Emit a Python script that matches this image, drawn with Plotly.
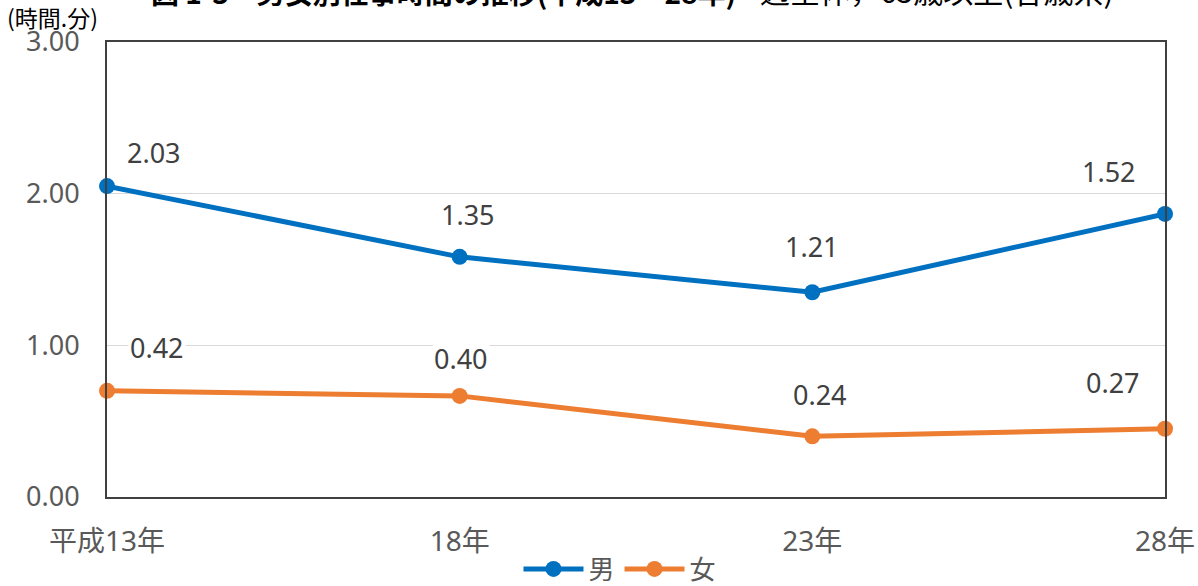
import plotly.graph_objects as go

# Survey years (category axis) and working time per day, written as "hours.minutes"
years = ["平成13年", "18年", "23年", "28年"]
men_hm = ["2.03", "1.35", "1.21", "1.52"]
women_hm = ["0.42", "0.40", "0.24", "0.27"]
y_ticks = [0, 1, 2, 3]
y_ticktext = ["0.00", "1.00", "2.00", "3.00"]


def hm_to_hours(s):
    h, m = s.split(".")
    return int(h) + int(m) / 60.0


men = [hm_to_hours(v) for v in men_hm]
women = [hm_to_hours(v) for v in women_hm]
xs = list(range(len(years)))

BLUE = "#0070C0"
ORANGE = "#ED7D31"
TXT = "#595959"
NUM_FONT = "Noto Sans, Noto Sans CJK JP, sans-serif"
JP_FONT = "Noto Sans CJK JP, Noto Sans, sans-serif"

fig = go.Figure()
fig.add_trace(go.Scatter(
    x=xs, y=men, name="男", mode="lines+markers",
    line=dict(color=BLUE, width=5), marker=dict(size=16, color=BLUE),
    cliponaxis=False,
))
fig.add_trace(go.Scatter(
    x=xs, y=women, name="女", mode="lines+markers",
    line=dict(color=ORANGE, width=5), marker=dict(size=16, color=ORANGE),
    cliponaxis=False,
))

# value labels above each point
men_dx = [47, 8, 0, -56]
men_dy = [34, 42, 46, 42]
women_dx = [50, 1, 8, -52]
women_dy = [43, 37, 42, 46]
for i in xs:
    fig.add_annotation(x=i, y=men[i], text=men_hm[i], showarrow=False,
                       xshift=men_dx[i], yshift=men_dy[i], bgcolor="white",
                       font=dict(family=NUM_FONT, size=27, color="#404040"))
    fig.add_annotation(x=i, y=women[i], text=women_hm[i], showarrow=False,
                       xshift=women_dx[i], yshift=women_dy[i], bgcolor="white",
                       font=dict(family=NUM_FONT, size=27, color="#404040"))

# chart title (runs past the top edge of the page)
fig.add_annotation(xref="paper", yref="paper", x=(738 - 107) / 1058, y=1 + (42 - 14) / 455,
                   xanchor="right", yanchor="bottom", showarrow=False,
                   text="<b>図 1-3　男女別仕事時間の推移(平成13～28年)</b>",
                   font=dict(family=JP_FONT, size=28, color="black"))
fig.add_annotation(xref="paper", yref="paper", x=(728 - 107) / 1058, y=1 + (42 - 14) / 455,
                   xanchor="left", yanchor="bottom", showarrow=False,
                   text="－週全体，65歳以上(各歳系)",
                   font=dict(family=JP_FONT, size=30, color="black"))

# unit label for the value axis
fig.add_annotation(xref="paper", yref="paper", x=(5 - 107) / 1058, y=1 + (42 - 17) / 455,
                   xanchor="left", yanchor="middle", showarrow=False,
                   text="(時間.分)", font=dict(family=JP_FONT, size=23, color="black"))

fig.update_layout(
    width=1198, height=586,
    margin=dict(l=107, r=33, t=42, b=89, autoexpand=False),
    paper_bgcolor="white", plot_bgcolor="white",
    showlegend=True,
    legend=dict(orientation="h", x=(620 - 107) / 1058, xanchor="center",
                y=(497 - 569) / 455, yanchor="middle",
                font=dict(family=JP_FONT, size=26, color=TXT),
                itemwidth=60, bgcolor="rgba(0,0,0,0)"),
)
fig.update_xaxes(
    range=[0, 3], tickvals=xs, ticktext=years,
    showgrid=False, zeroline=False,
    showline=True, mirror=True, linecolor="#404040", linewidth=2,
    ticks="", ticklabelstandoff=18,
    tickfont=dict(family=NUM_FONT, size=28, color=TXT),
)
fig.update_yaxes(
    range=[0, 3], tickvals=y_ticks, ticktext=y_ticktext,
    showgrid=True, gridcolor="#D9D9D9", gridwidth=1, zeroline=False,
    showline=True, mirror=True, linecolor="#404040", linewidth=2,
    ticks="", ticklabelstandoff=20,
    tickfont=dict(family=NUM_FONT, size=27, color=TXT),
)

fig.write_html("out.html")
